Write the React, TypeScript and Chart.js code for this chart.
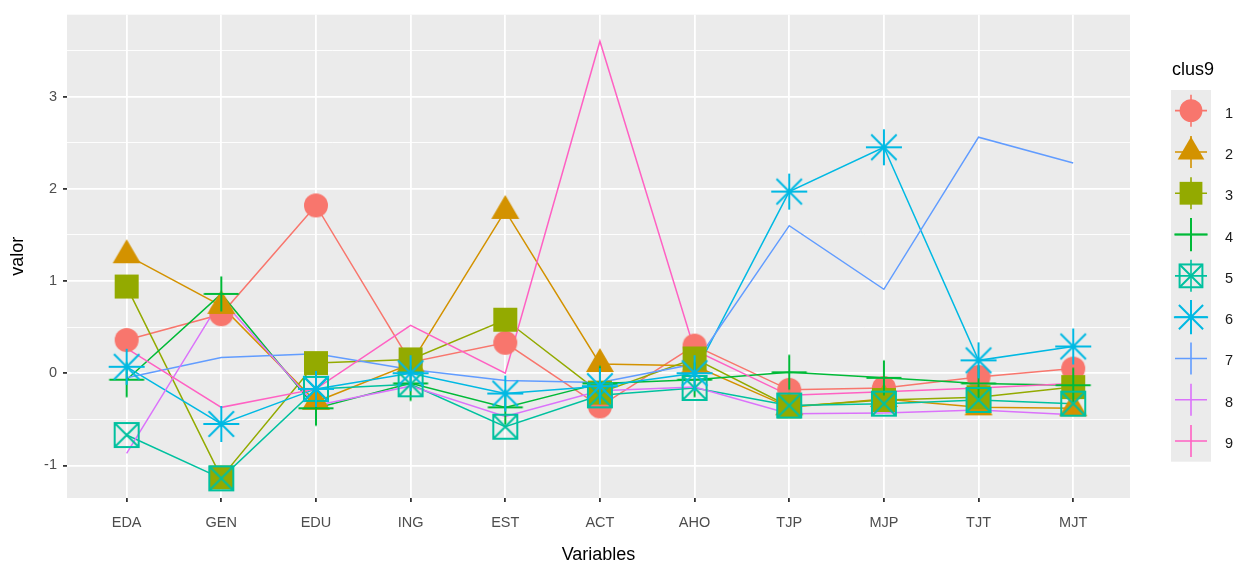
import React, { useEffect, useRef } from 'react';
import { Chart, registerables } from 'chart.js';

Chart.register(...registerables);

const categories = ['EDA', 'GEN', 'EDU', 'ING', 'EST', 'ACT', 'AHO', 'TJP', 'MJP', 'TJT', 'MJT'];

const clus1 = [0.36, 0.64, 1.82, 0.12, 0.33, -0.36, 0.30, -0.18, -0.16, -0.04, 0.05];
const clus2 = [1.28, 0.73, -0.31, 0.10, 1.76, 0.10, 0.08, -0.37, -0.28, -0.37, -0.38];
const clus3 = [0.94, -1.13, 0.11, 0.15, 0.58, -0.21, 0.16, -0.36, -0.29, -0.26, -0.15];
const clus4 = [-0.07, 0.86, -0.38, -0.11, -0.37, -0.11, -0.07, 0.01, -0.05, -0.11, -0.13];
const clus5 = [-0.67, -1.14, -0.17, -0.12, -0.58, -0.24, -0.16, -0.35, -0.33, -0.29, -0.33];
const clus6 = [0.07, -0.55, -0.17, 0.0, -0.22, -0.14, 0.0, 1.97, 2.45, 0.14, 0.29];
const clus7 = [-0.05, 0.17, 0.21, 0.04, -0.08, -0.1, 0.1, 1.6, 0.91, 2.56, 2.28];
const clus8 = [-0.87, 0.8, -0.35, -0.14, -0.47, -0.19, -0.15, -0.44, -0.43, -0.4, -0.45];
const clus9 = [0.27, -0.37, -0.17, 0.52, 0.0, 3.6, 0.25, -0.24, -0.2, -0.16, -0.11];

const seriesValues = [clus1, clus2, clus3, clus4, clus5, clus6, clus7, clus8, clus9];
const seriesNames = ['1', '2', '3', '4', '5', '6', '7', '8', '9'];
const seriesColors = ['#F8766D', '#D39200', '#93AA00', '#00BA38', '#00C19F', '#00B9E3', '#619CFF', '#DB72FB', '#FF61C3'];
const plotShapes = ['circle', 'triangle', 'square', 'plus', 'boxcross', 'asterisk', 'none', 'none', 'none'];
const legendShapes = ['circle', 'triangle', 'square', 'plus', 'boxcross', 'asterisk', 'plus', 'plus', 'plus'];

const yTicks = [-1, -0.5, 0, 0.5, 1, 1.5, 2, 2.5, 3, 3.5];
const yMin = -1.353;
const yMax = 3.888;

const FONT = "'Liberation Sans', Arial, sans-serif";

function drawShape(ctx: CanvasRenderingContext2D, shape: string, color: string, cx: number, cy: number, s: number) {
  ctx.save();
  ctx.fillStyle = color;
  ctx.strokeStyle = color;
  ctx.lineWidth = 2;
  ctx.lineCap = 'butt';
  if (shape === 'circle') {
    ctx.beginPath();
    ctx.arc(cx, cy, 12 * s, 0, Math.PI * 2);
    ctx.fill();
  } else if (shape === 'triangle') {
    const h = 24 * s;
    const w = 28 * s;
    ctx.beginPath();
    ctx.moveTo(cx, cy - (2 * h) / 3);
    ctx.lineTo(cx + w / 2, cy + h / 3);
    ctx.lineTo(cx - w / 2, cy + h / 3);
    ctx.closePath();
    ctx.fill();
  } else if (shape === 'square') {
    ctx.fillRect(cx - 12 * s, cy - 12 * s, 24 * s, 24 * s);
  } else if (shape === 'plus') {
    const r = 17.5 * s;
    ctx.beginPath();
    ctx.moveTo(cx - r, cy);
    ctx.lineTo(cx + r, cy);
    ctx.moveTo(cx, cy - r);
    ctx.lineTo(cx, cy + r);
    ctx.stroke();
  } else if (shape === 'boxcross') {
    const h = 12 * s;
    ctx.strokeRect(cx - h, cy - h, 2 * h, 2 * h);
    ctx.beginPath();
    ctx.moveTo(cx - h, cy - h);
    ctx.lineTo(cx + h, cy + h);
    ctx.moveTo(cx + h, cy - h);
    ctx.lineTo(cx - h, cy + h);
    ctx.stroke();
  } else if (shape === 'asterisk') {
    const r = 18 * s;
    ctx.beginPath();
    for (let k = 0; k < 4; k++) {
      const a = (k * Math.PI) / 4;
      ctx.moveTo(cx - r * Math.cos(a), cy - r * Math.sin(a));
      ctx.lineTo(cx + r * Math.cos(a), cy + r * Math.sin(a));
    }
    ctx.stroke();
  }
  ctx.restore();
}

function makeMarker(shape: string, color: string): HTMLCanvasElement {
  const c = document.createElement('canvas');
  c.width = 40;
  c.height = 40;
  const ctx = c.getContext('2d')!;
  drawShape(ctx, shape, color, 20, 20, 1);
  return c;
}

const panelPlugin = {
  id: 'panelBg',
  beforeDraw(chart: any) {
    const { ctx, chartArea } = chart;
    ctx.save();
    ctx.fillStyle = '#EBEBEB';
    ctx.fillRect(chartArea.left, chartArea.top, chartArea.right - chartArea.left, chartArea.bottom - chartArea.top);
    ctx.restore();
  },
};

const legendPlugin = {
  id: 'ggLegend',
  afterDraw(chart: any) {
    const ctx: CanvasRenderingContext2D = chart.ctx;
    const keyLeft = 1171;
    const keyW = 40;
    const keyTop = 90;
    const keyH = 41.3;
    ctx.save();
    ctx.fillStyle = '#000000';
    ctx.font = `18px ${FONT}`;
    ctx.textBaseline = 'middle';
    ctx.textAlign = 'left';
    ctx.fillText('clus9', 1172, 70);
    ctx.fillStyle = '#EBEBEB';
    ctx.fillRect(keyLeft, keyTop, keyW, keyH * seriesNames.length);
    seriesNames.forEach((name, i) => {
      const cx = keyLeft + keyW / 2;
      const cy = keyTop + keyH * i + keyH / 2;
      const color = seriesColors[i];
      ctx.save();
      ctx.strokeStyle = color;
      ctx.lineWidth = 1.6;
      ctx.beginPath();
      ctx.moveTo(cx - 16, cy);
      ctx.lineTo(cx + 16, cy);
      ctx.moveTo(cx, cy - 16);
      ctx.lineTo(cx, cy + 16);
      ctx.stroke();
      ctx.restore();
      if (i < 6) {
        drawShape(ctx, legendShapes[i], color, cx, cy, 0.95);
      }
      ctx.fillStyle = '#1A1A1A';
      ctx.font = `14.5px ${FONT}`;
      ctx.fillText(name, 1225, cy + 3);
    });
    ctx.restore();
  },
};

export default function App() {
  const ref = useRef<HTMLCanvasElement | null>(null);

  useEffect(() => {
    document.body.style.margin = '0';
    const canvas = ref.current;
    if (!canvas) return;

    const lineDatasets = seriesValues.map((vals, i) => ({
      label: seriesNames[i],
      data: vals.map((v, j) => ({ x: j, y: v })),
      borderColor: seriesColors[i],
      backgroundColor: seriesColors[i],
      borderWidth: 1.5,
      pointRadius: 0,
      tension: 0,
      fill: false,
      order: 100 - i,
    }));

    const pointDatasets = seriesValues
      .map((vals, i) => ({ vals, i }))
      .filter(({ i }) => plotShapes[i] !== 'none')
      .map(({ vals, i }) => ({
        label: seriesNames[i] + ' pts',
        data: vals.map((v, j) => ({ x: j, y: v })),
        showLine: false,
        borderColor: seriesColors[i],
        backgroundColor: seriesColors[i],
        pointStyle: makeMarker(plotShapes[i], seriesColors[i]),
        pointRadius: 12,
        order: 50 - i,
      }));

    const chart = new Chart(canvas, {
      type: 'line',
      data: { datasets: [...lineDatasets, ...pointDatasets] as any },
      plugins: [panelPlugin, legendPlugin],
      options: {
        animation: false,
        responsive: false,
        maintainAspectRatio: false,
        layout: { padding: { top: 13, right: 120, left: 0, bottom: 0 } },
        plugins: { legend: { display: false }, tooltip: { enabled: false } },
        scales: {
          x: {
            type: 'linear',
            min: -0.63,
            max: 10.6,
            afterBuildTicks: (scale: any) => {
              scale.ticks = categories.map((_, i) => ({ value: i }));
            },
            afterFit: (scale: any) => {
              scale.height = 69;
            },
            ticks: {
              autoSkip: false,
              maxRotation: 0,
              padding: 12,
              color: '#4D4D4D',
              font: { family: FONT, size: 14.5 },
              callback: (v: any) => categories[v as number] ?? '',
            },
            grid: {
              color: '#FFFFFF',
              lineWidth: 1.8,
              tickColor: '#333333',
              tickLength: 4,
            },
            border: { display: false },
            title: {
              display: true,
              text: 'Variables',
              color: '#000000',
              font: { family: FONT, size: 18 },
              padding: { top: 0, bottom: 1 },
            },
          },
          y: {
            type: 'linear',
            min: yMin,
            max: yMax,
            afterBuildTicks: (scale: any) => {
              scale.ticks = yTicks.map((v) => ({ value: v }));
            },
            afterFit: (scale: any) => {
              scale.width = 67;
            },
            ticks: {
              autoSkip: false,
              padding: 6,
              color: '#4D4D4D',
              font: { family: FONT, size: 14.5 },
              callback: (v: any) => (Number.isInteger(v) ? String(v) : ''),
            },
            grid: {
              color: '#FFFFFF',
              lineWidth: (ctx: any) => (ctx.tick && Number.isInteger(ctx.tick.value) ? 1.8 : 0.9),
              tickColor: (ctx: any) => (ctx.tick && Number.isInteger(ctx.tick.value) ? '#333333' : 'rgba(0,0,0,0)'),
              tickLength: 4,
            },
            border: { display: false },
            title: {
              display: true,
              text: 'valor',
              color: '#000000',
              font: { family: FONT, size: 18 },
              padding: { top: 7, bottom: 0 },
            },
          },
        },
      },
    });
    return () => chart.destroy();
  }, []);

  return (
    <div style={{ position: 'absolute', left: 0, top: 0, width: 1250, height: 567, background: '#FFFFFF' }}>
      <canvas ref={ref} width={1250} height={567} />
    </div>
  );
}
